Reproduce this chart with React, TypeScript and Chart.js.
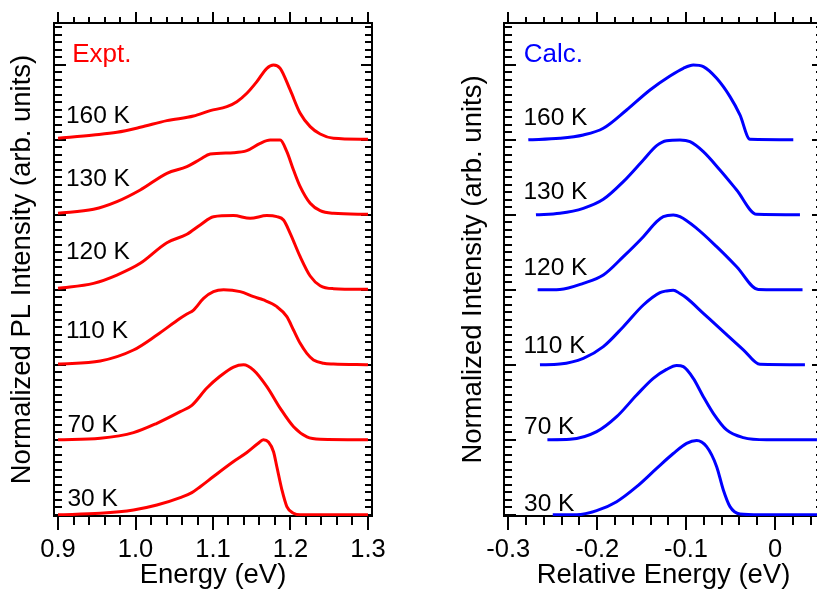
import React, { useEffect, useRef } from "react";
import { Chart, registerables } from "chart.js";

Chart.register(...registerables);

const FONT = "'Liberation Sans', Arial, Helvetica, sans-serif";

// ---------- shared ----------
const TEMP_LABELS = ["30 K", "70 K", "110 K", "120 K", "130 K", "160 K"];
const OFFSETS = [0, 1, 2, 3, 4, 5];

// ---------- Expt. panel (Energy, eV) ----------
const EXPT_E_30 = [0.9, 0.9545, 0.9974, 1.0276, 1.0577, 1.0727, 1.0835, 1.1006, 1.1265, 1.1437, 1.158, 1.165, 1.1716, 1.1781, 1.1824, 1.189, 1.1953, 1.2039, 1.2125, 1.3];
const EXPT_I_30 = [0, 0.02, 0.064, 0.13, 0.23, 0.295, 0.375, 0.51, 0.71, 0.83, 0.95, 1.0, 0.97, 0.84, 0.64, 0.33, 0.11, 0.02, 0, 0];

const EXPT_E_70 = [0.9, 0.9545, 0.9974, 1.0276, 1.0577, 1.0727, 1.0921, 1.1094, 1.1265, 1.1394, 1.1523, 1.1695, 1.1868, 1.204, 1.2212, 1.2384, 1.3];
const EXPT_I_70 = [0, 0.02, 0.095, 0.22, 0.375, 0.46, 0.69, 0.85, 0.97, 1.0, 0.93, 0.71, 0.42, 0.175, 0.04, 0.007, 0];

const EXPT_E_110 = [0.9, 0.9545, 0.9974, 1.0276, 1.0577, 1.0663, 1.0749, 1.0878, 1.1006, 1.1136, 1.1351, 1.1523, 1.1652, 1.1824, 1.1953, 1.2039, 1.2125, 1.2211, 1.2297, 1.2426, 1.2555, 1.3];
const EXPT_I_110 = [0.01, 0.05, 0.197, 0.397, 0.62, 0.677, 0.73, 0.886, 0.975, 1.0, 0.975, 0.908, 0.864, 0.775, 0.642, 0.464, 0.286, 0.153, 0.064, 0.02, 0.01, 0];

const EXPT_E_120 = [0.9, 0.9458, 0.976, 1.0061, 1.0405, 1.0663, 1.0835, 1.1006, 1.1265, 1.148, 1.1695, 1.1824, 1.191, 1.1996, 1.2125, 1.2254, 1.2383, 1.2555, 1.3];
const EXPT_I_120 = [0.02, 0.086, 0.197, 0.353, 0.628, 0.74, 0.864, 0.975, 0.99, 0.953, 0.99, 0.975, 0.93, 0.753, 0.442, 0.184, 0.055, 0.015, 0.006];

const EXPT_E_130 = [0.9, 0.9458, 0.976, 1.0061, 1.0405, 1.0663, 1.0835, 1.0964, 1.1265, 1.1437, 1.1609, 1.1738, 1.1867, 1.1953, 1.2039, 1.2125, 1.2254, 1.2383, 1.2555, 1.3];
const EXPT_I_130 = [0.02, 0.073, 0.175, 0.33, 0.553, 0.642, 0.74, 0.81, 0.828, 0.855, 0.953, 0.997, 0.997, 0.842, 0.597, 0.375, 0.153, 0.055, 0.02, 0.006];

const EXPT_E_160 = [0.9, 0.9458, 0.976, 1.0061, 1.0405, 1.0749, 1.0964, 1.1179, 1.1308, 1.1437, 1.1566, 1.1695, 1.1781, 1.1867, 1.1996, 1.2125, 1.2254, 1.2383, 1.2555, 1.3];
const EXPT_I_160 = [0.02, 0.064, 0.1, 0.166, 0.255, 0.317, 0.388, 0.442, 0.508, 0.62, 0.775, 0.953, 0.997, 0.953, 0.664, 0.353, 0.175, 0.077, 0.02, 0.006];

const EXPT_LABEL_X = [0.9122, 0.9122, 0.9102, 0.9102, 0.9102, 0.9102];
const EXPT_LABEL_Y = [0.117, 1.108, 2.351, 3.404, 4.384, 5.224];
const EXPT_X_TICKS = [0.9, 1.3]; // first / last tick mark

// ---------- Calc. panel (Relative Energy, eV) ----------
const CALC_E_30 = [-0.25, -0.2231, -0.2006, -0.1781, -0.1556, -0.1331, -0.1144, -0.0994, -0.0881, -0.0769, -0.0656, -0.0581, -0.0506, -0.0394, -0.0169, 0.06];
const CALC_I_30 = [0, 0, 0.055, 0.175, 0.375, 0.619, 0.817, 0.953, 0.99, 0.908, 0.642, 0.331, 0.109, 0.011, 0, 0];

const CALC_E_70 = [-0.256, -0.2306, -0.2006, -0.1781, -0.1556, -0.1369, -0.1219, -0.1106, -0.1031, -0.0919, -0.0806, -0.0694, -0.0544, -0.0356, -0.0094, 0.06];
const CALC_I_70 = [0, 0.006, 0.108, 0.308, 0.597, 0.819, 0.939, 0.99, 0.975, 0.819, 0.575, 0.353, 0.131, 0.029, 0, 0];

const CALC_E_110 = [-0.2644, -0.242, -0.2156, -0.1931, -0.1706, -0.1481, -0.1294, -0.1219, -0.1144, -0.1069, -0.0994, -0.0806, -0.0581, -0.0356, -0.0169, 0.0337];
const CALC_I_110 = [0, 0.01, 0.086, 0.242, 0.508, 0.797, 0.962, 0.985, 0.995, 0.95, 0.89, 0.686, 0.442, 0.2, 0.006, 0];

const CALC_E_120 = [-0.267, -0.242, -0.2156, -0.1931, -0.1706, -0.1481, -0.1331, -0.1256, -0.1144, -0.1069, -0.0881, -0.0656, -0.0431, -0.0188, 0.031];
const CALC_I_120 = [0, 0.005, 0.086, 0.197, 0.442, 0.708, 0.908, 0.975, 0.997, 0.975, 0.819, 0.575, 0.308, 0.005, 0];

const CALC_E_130 = [-0.2689, -0.242, -0.2156, -0.1931, -0.1706, -0.1481, -0.1331, -0.1219, -0.1069, -0.0956, -0.0806, -0.0619, -0.0431, -0.0206, 0.0281];
const CALC_I_130 = [0, 0.02, 0.086, 0.206, 0.442, 0.731, 0.922, 0.988, 0.997, 0.975, 0.842, 0.597, 0.331, 0.006, 0];

const CALC_E_160 = [-0.2775, -0.242, -0.2156, -0.1931, -0.1669, -0.1406, -0.1181, -0.1031, -0.0919, -0.0806, -0.0656, -0.0506, -0.0394, -0.0281, 0.0206];
const CALC_I_160 = [0, 0.02, 0.064, 0.153, 0.397, 0.664, 0.85, 0.953, 0.997, 0.975, 0.819, 0.575, 0.331, 0.006, 0];

const CALC_LABEL_X = [-0.2823, -0.2823, -0.283, -0.283, -0.283, -0.283];
const CALC_LABEL_Y = [0.055, 1.077, 2.155, 3.197, 4.207, 5.193];
const CALC_X_TICKS = [-0.3, 0.05];

// ---------- axis ranges ----------
const Y_MIN = -0.016;
const Y_MAX = 6.557;
const Y_TICK_TOP = 6.5;

type Panel = {
  es: number[][];
  is: number[][];
  color: string;
  tag: string;
  tagX: number;
  tagY: number;
  labelX: number[];
  labelY: number[];
  xMin: number;
  xMax: number;
  xTicks: number[];
  xTitle: string;
  yTitle: string;
  yAxisWidth: number;
  yTitlePad: number;
  padRight: number;
};

const EXPT_PANEL: Panel = {
  es: [EXPT_E_30, EXPT_E_70, EXPT_E_110, EXPT_E_120, EXPT_E_130, EXPT_E_160],
  is: [EXPT_I_30, EXPT_I_70, EXPT_I_110, EXPT_I_120, EXPT_I_130, EXPT_I_160],
  color: "#ff0000",
  tag: "Expt.",
  tagX: 0.9183,
  tagY: 6.04,
  labelX: EXPT_LABEL_X,
  labelY: EXPT_LABEL_Y,
  xMin: 0.8948,
  xMax: 1.3052,
  xTicks: EXPT_X_TICKS,
  xTitle: "Energy (eV)",
  yTitle: "Normalized PL Intensity (arb. units)",
  yAxisWidth: 54,
  yTitlePad: 6,
  padRight: 38,
};

const CALC_PANEL: Panel = {
  es: [CALC_E_30, CALC_E_70, CALC_E_110, CALC_E_120, CALC_E_130, CALC_E_160],
  is: [CALC_I_30, CALC_I_70, CALC_I_110, CALC_I_120, CALC_I_130, CALC_I_160],
  color: "#0000ff",
  tag: "Calc.",
  tagX: -0.2826,
  tagY: 6.04,
  labelX: CALC_LABEL_X,
  labelY: CALC_LABEL_Y,
  xMin: -0.30484,
  xMax: 0.05403,
  xTicks: CALC_X_TICKS,
  xTitle: "Relative Energy (eV)",
  yTitle: "Normalized Intensity (arb. units)",
  yAxisWidth: 94,
  yTitlePad: 47,
  padRight: 17,
};

function fmt(v: number) {
  return Math.abs(v) < 1e-9 ? "0" : v.toFixed(1);
}

function buildConfig(p: Panel): any {
  const datasets = p.es.map((es, i) => ({
    label: TEMP_LABELS[i],
    data: es.map((e, k) => ({ x: e, y: p.is[i][k] + OFFSETS[i] })),
    borderColor: p.color,
    backgroundColor: p.color,
    borderWidth: 3,
    pointRadius: 0,
    fill: false,
    cubicInterpolationMode: "monotone",
  }));

  const framePlugin = {
    id: "frame",
    beforeDatasetsDraw(chart: any) {
      const { ctx, chartArea } = chart;
      const { left, right, top, bottom } = chartArea;
      const xs = chart.scales.x;
      const ys = chart.scales.y;
      ctx.save();
      ctx.strokeStyle = "#000";
      ctx.lineWidth = 2;
      ctx.lineCap = "butt";
      ctx.strokeRect(left, top, right - left, bottom - top);
      ctx.beginPath();
      // x ticks: minor every 0.02, major every 0.1
      const nX = Math.round((p.xTicks[1] - p.xTicks[0]) / 0.02);
      for (let k = 0; k <= nX; k++) {
        const v = p.xTicks[0] + k * 0.02;
        const px = Math.round(xs.getPixelForValue(v));
        const major = k % 5 === 0;
        ctx.moveTo(px, top);
        ctx.lineTo(px, top - (major ? 11 : 6));
        ctx.moveTo(px, bottom);
        ctx.lineTo(px, bottom + (major ? 14 : 9));
      }
      // y ticks: minor every 0.1, major every 1
      const nY = Math.round(Y_TICK_TOP / 0.1);
      for (let k = 0; k <= nY; k++) {
        const v = k * 0.1;
        const py = Math.round(ys.getPixelForValue(v));
        const major = k % 10 === 0;
        ctx.moveTo(left, py);
        ctx.lineTo(left + (major ? 12 : 8), py);
        ctx.moveTo(right, py);
        ctx.lineTo(right - (major ? 11 : 7), py);
      }
      ctx.stroke();
      ctx.restore();
    },
  };

  const labelPlugin = {
    id: "templabels",
    afterDatasetsDraw(chart: any) {
      const { ctx } = chart;
      const xs = chart.scales.x;
      const ys = chart.scales.y;
      ctx.save();
      ctx.textAlign = "left";
      ctx.textBaseline = "alphabetic";
      ctx.font = `24.5px ${FONT}`;
      ctx.fillStyle = "#000";
      TEMP_LABELS.forEach((t, i) => {
        ctx.fillText(t, xs.getPixelForValue(p.labelX[i]), ys.getPixelForValue(p.labelY[i]));
      });
      ctx.font = `26px ${FONT}`;
      ctx.fillStyle = p.color;
      ctx.fillText(p.tag, xs.getPixelForValue(p.tagX), ys.getPixelForValue(p.tagY));
      ctx.restore();
    },
  };

  return {
    type: "line",
    data: { datasets },
    options: {
      animation: false,
      responsive: false,
      devicePixelRatio: 1,
      layout: { padding: { left: 0, right: p.padRight, top: 23, bottom: 0 } },
      plugins: {
        legend: { display: false },
        tooltip: { enabled: false },
      },
      scales: {
        x: {
          type: "linear",
          position: "bottom",
          min: p.xMin,
          max: p.xMax,
          grid: { display: false, drawTicks: false },
          border: { display: false },
          ticks: {
            stepSize: 0.1,
            includeBounds: false,
            autoSkip: false,
            maxRotation: 0,
            padding: 19,
            color: "#000",
            font: { family: FONT, size: 25.5 },
            callback: (v: any) => fmt(Number(v)),
          },
          title: {
            display: true,
            text: p.xTitle,
            color: "#000",
            font: { family: FONT, size: 27.5 },
            padding: { top: 0, bottom: 3.5 },
          },
          afterFit: (s: any) => {
            s.height = 79;
          },
        },
        y: {
          type: "linear",
          position: "left",
          min: Y_MIN,
          max: Y_MAX,
          grid: { display: false, drawTicks: false },
          border: { display: false },
          ticks: { display: false },
          title: {
            display: true,
            text: p.yTitle,
            color: "#000",
            font: { family: FONT, size: 27.5 },
            padding: { top: p.yTitlePad, bottom: 0 },
          },
          afterFit: (s: any) => {
            s.width = p.yAxisWidth;
          },
        },
      },
    },
    plugins: [framePlugin, labelPlugin],
  };
}

export default function App() {
  const leftRef = useRef<HTMLCanvasElement>(null);
  const rightRef = useRef<HTMLCanvasElement>(null);

  useEffect(() => {
    const c1 = new Chart(leftRef.current as HTMLCanvasElement, buildConfig(EXPT_PANEL));
    const c2 = new Chart(rightRef.current as HTMLCanvasElement, buildConfig(CALC_PANEL));
    return () => {
      c1.destroy();
      c2.destroy();
    };
  }, []);

  return (
    <div
      style={{
        position: "fixed",
        left: 0,
        top: 0,
        width: 817,
        height: 595,
        overflow: "hidden",
        background: "#fff",
      }}
    >
      <canvas
        ref={leftRef}
        width={410}
        height={595}
        style={{ position: "absolute", left: 0, top: 0, width: 410, height: 595 }}
      />
      <canvas
        ref={rightRef}
        width={430}
        height={595}
        style={{ position: "absolute", left: 410, top: 0, width: 430, height: 595 }}
      />
    </div>
  );
}
